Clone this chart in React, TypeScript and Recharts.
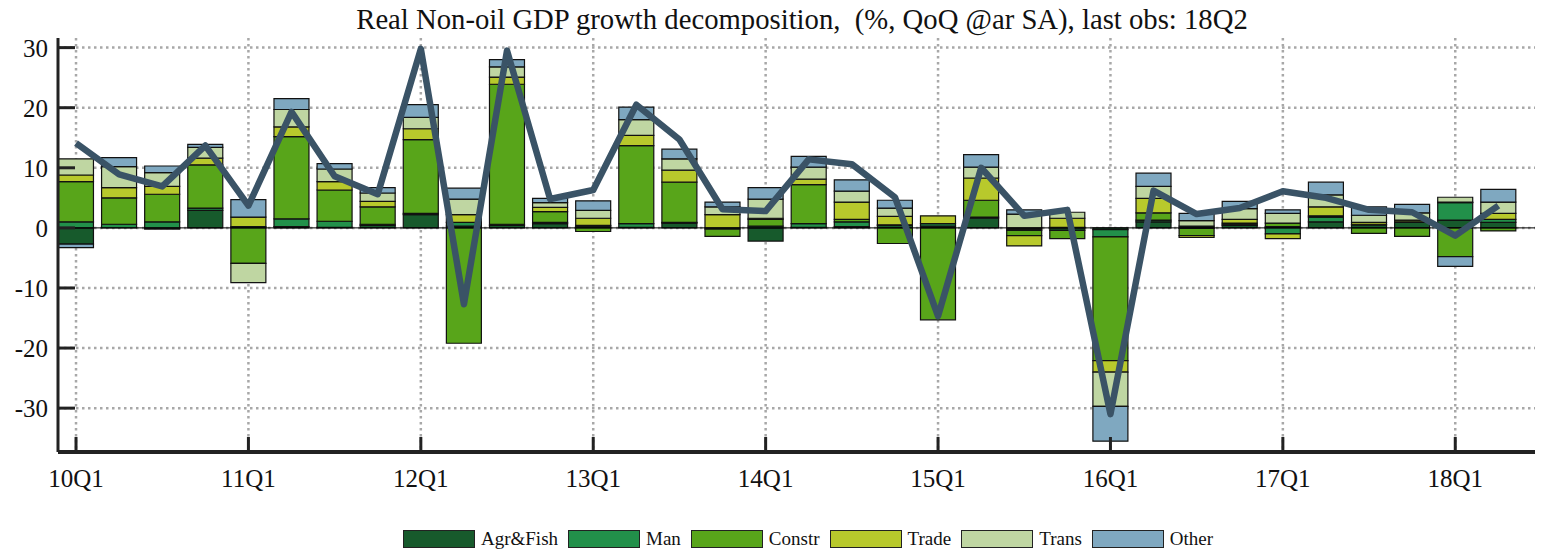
import React from 'react';
import { ComposedChart, Bar, Line, XAxis, YAxis, CartesianGrid, ReferenceLine } from 'recharts';

const quarters = [
  '10Q1', '10Q2', '10Q3', '10Q4', '11Q1', '11Q2', '11Q3', '11Q4',
  '12Q1', '12Q2', '12Q3', '12Q4', '13Q1', '13Q2', '13Q3', '13Q4',
  '14Q1', '14Q2', '14Q3', '14Q4', '15Q1', '15Q2', '15Q3', '15Q4',
  '16Q1', '16Q2', '16Q3', '16Q4', '17Q1', '17Q2', '17Q3', '17Q4',
  '18Q1', '18Q2',
];

const agrFish = [-2.7, 0, -0.2, 2.9, 0.2, 0.2, 0.1, 0.4, 2.2, 0.3, 0.4, 0.7, 0.3, 0.1, 0.8, -0.2, -2.2, 0.1, 0.2, 0.4, 0.3, 1.6, -0.2, -0.4, -0.3, 1.0, 0.3, 0.4, 0.2, 1.0, 0.5, 0.9, 1.3, 0.9];
const man = [1.0, 0.6, 1.0, 0.4, 0, 1.3, 1.0, 0.2, 0.2, 0.6, 0.2, 0.2, 0.1, 0.6, 0.1, 0, 0.3, 0.6, 0.8, 0.1, 0.4, 0.2, -0.2, 0.1, -1.2, 0.3, -0.1, 0.2, -1.0, 0.8, 0.1, 0.1, 2.9, 0.5];
const constr = [6.7, 4.4, 4.6, 7.2, -5.9, 13.7, 5.2, 2.9, 12.3, -19.2, 23.3, 1.8, -0.6, 13.0, 6.7, -1.2, 1.1, 6.5, 0.4, -2.6, -15.3, 2.8, -0.9, -1.4, -20.6, 1.2, -1.2, 0.2, 0.6, 0.2, -0.9, -1.4, -4.8, -0.5];
const trade = [1.1, 1.7, 1.3, 1.1, 1.6, 1.6, 1.4, 0.9, 1.8, 1.3, 1.2, 0.7, 1.2, 1.7, 2.0, 2.2, 0.2, 0.9, 2.9, 1.4, 1.3, 3.7, -1.7, 1.5, -1.9, 2.4, -0.3, 0.6, -0.8, 1.5, 0.3, 0.3, 0.1, 1.0];
const trans = [2.7, 3.5, 2.3, 1.8, -3.2, 2.9, 2.1, 1.4, 1.9, 2.6, 1.7, 0.8, 1.3, 2.6, 1.9, 1.3, 3.2, 2.0, 1.8, 1.4, 0, 1.8, 2.3, 1.0, -5.7, 2.0, 0.9, 1.8, 1.6, 2.0, 1.2, 1.2, 0.8, 1.9];
const other = [-0.6, 1.5, 1.1, 0.5, 2.9, 1.8, 0.9, 0.9, 2.1, 1.8, 1.2, 0.7, 1.6, 2.1, 1.6, 0.8, 1.9, 1.8, 1.9, 1.3, 0, 2.1, 0.7, 0, -5.8, 2.2, 1.2, 1.2, 0.6, 2.1, 1.4, 1.4, -1.6, 2.1];
const total = [14.1, 8.9, 6.9, 13.7, 3.7, 19.3, 8.6, 5.6, 29.8, -12.7, 29.5, 4.8, 6.3, 20.5, 14.7, 3.1, 2.8, 11.4, 10.6, 5.1, -14.7, 10.0, 2.0, 3.0, -31.0, 6.2, 2.3, 3.3, 6.1, 5.0, 3.0, 2.6, -1.3, 3.7];

const yTicks = [-30, -20, -10, 0, 10, 20, 30];
const xTicks = [0, 4, 8, 12, 16, 20, 24, 28, 32];
const yDomain = [-37.3, 31.6];
const xDomain = [-0.418, 33.85];

const series = [
  { key: 'agr', name: 'Agr&Fish', color: '#175a2c', values: agrFish },
  { key: 'man', name: 'Man', color: '#22904a', values: man },
  { key: 'constr', name: 'Constr', color: '#58a51a', values: constr },
  { key: 'trade', name: 'Trade', color: '#b8c92c', values: trade },
  { key: 'trans', name: 'Trans', color: '#bfd6a2', values: trans },
  { key: 'other', name: 'Other', color: '#7fa8c0', values: other },
];

const data = quarters.map((q, i) => {
  const row: Record<string, number | string> = { idx: i, q, total: total[i] };
  series.forEach(s => { row[s.key] = s.values[i]; });
  return row;
});

const FONT = '"Liberation Serif", "Times New Roman", serif';
const AXIS = '#222';

const XTick = (props: any) => {
  const { x, y, payload } = props;
  return (
    <g>
      <line x1={x} x2={x} y1={y} y2={y - 15} stroke={AXIS} strokeWidth={3} />
      <text x={x} y={y + 35} textAnchor="middle" fontSize={25} fontFamily={FONT} fill="#111">
        {quarters[payload.value]}
      </text>
    </g>
  );
};

const YTick = (props: any) => {
  const { x, y, payload } = props;
  return (
    <g>
      <line x1={x} x2={x + 17} y1={y} y2={y} stroke={AXIS} strokeWidth={3} />
      <text x={x - 10} y={y + 9} textAnchor="end" fontSize={25} fontFamily={FONT} fill="#111">
        {payload.value}
      </text>
    </g>
  );
};

// grid lines only at the tick values, using the axis scales
const hGrid = ({ yAxis, offset }: any) =>
  yTicks.map(v =>
    yAxis && typeof yAxis.scale === 'function'
      ? yAxis.scale(v)
      : offset.top + ((yDomain[1] - v) / (yDomain[1] - yDomain[0])) * offset.height
  );
const vGrid = ({ xAxis, offset }: any) =>
  xTicks.map(v =>
    xAxis && typeof xAxis.scale === 'function'
      ? xAxis.scale(v)
      : offset.left + ((v - xDomain[0]) / (xDomain[1] - xDomain[0])) * offset.width
  );

export default function App() {
  return (
    <div style={{ position: 'relative', width: 1549, height: 557, margin: -8, background: '#fff', fontFamily: FONT }}>
      <div style={{ position: 'absolute', top: 3, left: 0, width: 1604, textAlign: 'center', fontSize: 28.7, lineHeight: '33px', color: '#111', whiteSpace: 'pre' }}>
        {'Real Non-oil GDP growth decomposition,  (%, QoQ @ar SA), last obs: 18Q2'}
      </div>
      <ComposedChart
        width={1549}
        height={557}
        data={data}
        stackOffset="sign"
        margin={{ top: 38, right: 14, left: 0, bottom: 60 }}
      >
        <CartesianGrid
          stroke="#a8a8a8"
          strokeWidth={2.5}
          strokeDasharray="2.5 3.5"
          horizontalCoordinatesGenerator={hGrid}
          verticalCoordinatesGenerator={vGrid}
        />
        <XAxis
          type="number"
          dataKey="idx"
          domain={xDomain}
          ticks={xTicks}
          allowDataOverflow
          interval={0}
          height={45}
          tickSize={0}
          tickMargin={0}
          tick={<XTick />}
          axisLine={{ stroke: AXIS, strokeWidth: 4 }}
          tickLine={false}
        />
        <YAxis
          type="number"
          domain={yDomain}
          ticks={yTicks}
          allowDataOverflow
          width={58}
          tickSize={0}
          tickMargin={0}
          tick={<YTick />}
          axisLine={{ stroke: AXIS, strokeWidth: 3 }}
          tickLine={false}
        />
        <ReferenceLine y={0} stroke="#000" strokeWidth={1} />
        {series.map(s => (
          <Bar
            key={s.key}
            dataKey={s.key}
            name={s.name}
            stackId="a"
            fill={s.color}
            stroke="#111"
            strokeWidth={1.2}
            barSize={35}
            isAnimationActive={false}
          />
        ))}
        <Line
          type="linear"
          dataKey="total"
          stroke="#3a5366"
          strokeWidth={6.5}
          strokeLinejoin="round"
          dot={false}
          isAnimationActive={false}
        />
      </ComposedChart>
      <div style={{ position: 'absolute', top: 529, left: 0, width: 1626, display: 'flex', justifyContent: 'center', alignItems: 'center', fontSize: 19, color: '#111' }}>
        {series.map(s => (
          <div key={s.key} style={{ display: 'flex', alignItems: 'center', marginRight: 10 }}>
            <div style={{ width: 70, height: 16, background: s.color, border: '1px solid #222', marginRight: 6 }} />
            <span style={{ lineHeight: '20px' }}>{s.name}</span>
          </div>
        ))}
      </div>
    </div>
  );
}
